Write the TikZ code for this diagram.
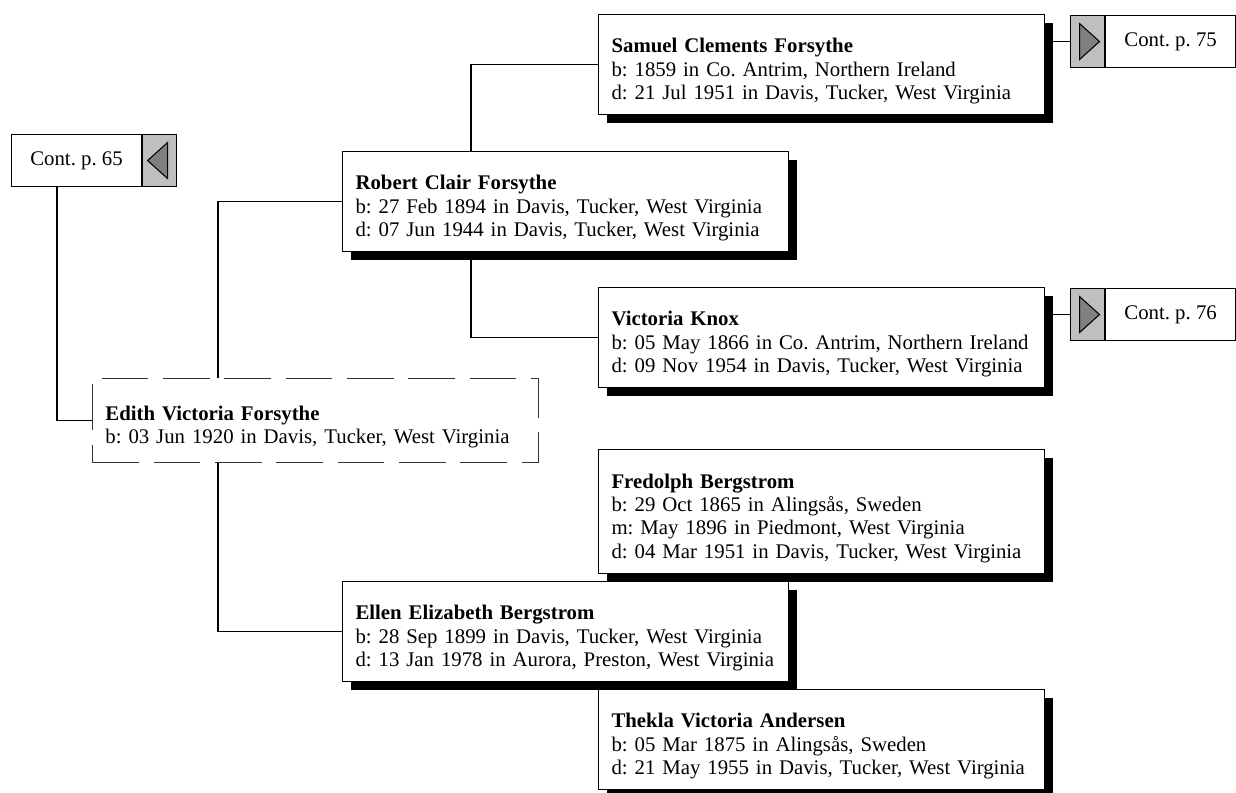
\documentclass[tikz,border=0pt]{standalone}
\usepackage{fontspec}
\setmainfont{Liberation Serif}
\usetikzlibrary{positioning,shadows}
\newcommand{\treefont}{\fontsize{15.6}{17.5}\selectfont\frenchspacing\hyphenpenalty=10000\relax}
\newcommand{\who}[1]{\rule{0pt}{21pt}\textbf{#1}}
\tikzset{
	card/.style={
		rectangle,
		draw,
		line width=0.8pt,
		fill=white,
		align=left,
		anchor=north west,
		text width=315pt,
		inner xsep=9.75pt,
		inner ysep=0pt,
		minimum height=75pt
	},
	person/.style={
		card,
		drop shadow={shadow xshift=6pt,shadow yshift=-6pt,fill=black,opacity=1}
	},
	contbox/.style={
		rectangle,
		draw,
		line width=0.8pt,
		fill=white,
		minimum width=97.5pt,
		minimum height=39pt,
		inner sep=0pt
	},
	button/.style={
		rectangle,
		draw,
		line width=0.8pt,
		fill=gray!50,
		minimum width=25.5pt,
		minimum height=39pt,
		inner sep=0pt
	},
	pointer/.style={draw,line width=0.8pt,fill=gray},
	line/.style={line width=1.1pt}
}

\begin{document}
\begin{tikzpicture}[x=0.75pt,y=-0.75pt,font=\treefont]
	\useasboundingbox (0,0) rectangle (1236,793);

	% persons
	\node[person] (samuel) at (598,14) {\who{Samuel Clements Forsythe}\\b: 1859 in Co. Antrim, Northern Ireland\\d: 21 Jul 1951 in Davis, Tucker, West Virginia};
	\node[person] (robert) at (342,151) {\who{Robert Clair Forsythe}\\b: 27 Feb 1894 in Davis, Tucker, West Virginia\\d: 07 Jun 1944 in Davis, Tucker, West Virginia};
	\node[person] (victoria) at (598,287) {\who{Victoria Knox}\\b: 05 May 1866 in Co. Antrim, Northern Ireland\\d: 09 Nov 1954 in Davis, Tucker, West Virginia};
	\node[card,draw=black!80,line width=0.6pt,dash pattern=on 35pt off 11pt,minimum height=63pt] (edith) at (92,378) {\who{Edith Victoria Forsythe}\\b: 03 Jun 1920 in Davis, Tucker, West Virginia};
	\node[person,minimum height=93pt] (fredolph) at (598,449) {\who{Fredolph Bergstrom}\\b: 29 Oct 1865 in Alingsås, Sweden\\m: May 1896 in Piedmont, West Virginia\\d: 04 Mar 1951 in Davis, Tucker, West Virginia};
	\node[person] (ellen) at (342,581) {\who{Ellen Elizabeth Bergstrom}\\b: 28 Sep 1899 in Davis, Tucker, West Virginia\\d: 13 Jan 1978 in Aurora, Preston, West Virginia};
	\node[person] (thekla) at (598,689) {\who{Thekla Victoria Andersen}\\b: 05 Mar 1875 in Alingsås, Sweden\\d: 21 May 1955 in Davis, Tucker, West Virginia};

	% continuation boxes
	\node[contbox,anchor=north west] (cont65) at (11,134) {Cont. p. 65};
	\node[button,right=0pt of cont65] (btn65) {};
	\node[button,anchor=north west] (btn75) at (1070,15) {};
	\node[contbox,right=0pt of btn75] (cont75) {Cont. p. 75};
	\node[button,anchor=north west] (btn76) at (1070,288) {};
	\node[contbox,right=0pt of btn76] (cont76) {Cont. p. 76};

	\draw[pointer] ([xshift=-9pt]btn65.center) -- ([xshift=6pt,yshift=13.5pt]btn65.center) -- ([xshift=6pt,yshift=-13.5pt]btn65.center) -- cycle;
	\draw[pointer] ([xshift=9pt]btn75.center) -- ([xshift=-6pt,yshift=13.5pt]btn75.center) -- ([xshift=-6pt,yshift=-13.5pt]btn75.center) -- cycle;
	\draw[pointer] ([xshift=9pt]btn76.center) -- ([xshift=-6pt,yshift=13.5pt]btn76.center) -- ([xshift=-6pt,yshift=-13.5pt]btn76.center) -- cycle;

	% joints
	\coordinate (rt) at ([xshift=96.75pt]robert.north west);
	\coordinate (rb) at ([xshift=96.75pt]robert.south west);
	\coordinate (et) at ([xshift=94.5pt]edith.north west);
	\coordinate (eb) at ([xshift=94.5pt]edith.south west);

	\draw[line] ([xshift=34.5pt]cont65.south west) |- (edith.west);
	\draw[line] (robert.west) -| (et);
	\draw[line] (eb) |- (ellen.west);
	\draw[line] (samuel.west) -| (rt);
	\draw[line] (rb) |- (victoria.west);
	\draw[line] (btn75.west) -- (btn75.west -| samuel.east);
	\draw[line] (btn76.west) -- (btn76.west -| victoria.east);
\end{tikzpicture}
\end{document}
